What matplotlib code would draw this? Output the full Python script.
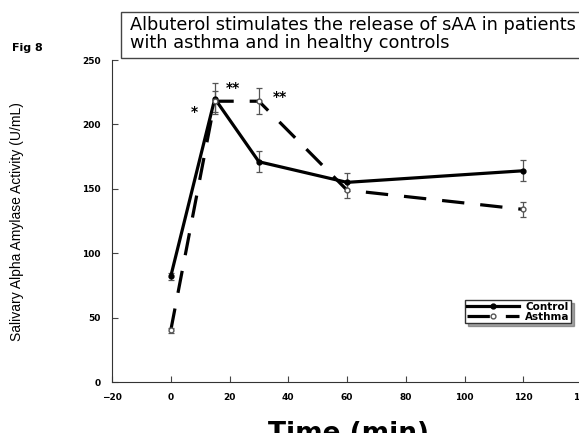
import matplotlib.pyplot as plt
from matplotlib.patches import Rectangle

plt.rcParams['font.family'] = ['DejaVu Sans']

# time points (min)
time = [0, 15, 30, 60, 120]

# healthy controls (solid) and asthma (dashed), sAA in U/mL
control = [82, 220, 171, 155, 164]
control_err = [3, 12, 8, 7, 8]
asthma = [40, 218, 218, 149, 134]
asthma_err = [2, 8, 10, 6, 6]

star_x = [8, 21, 37]
star_y = [210, 228, 221]
star_txt = ['*', '**', '**']

xticks = [-20, 0, 20, 40, 60, 80, 100, 120, 140]
yticks = [0, 50, 100, 150, 200, 250]

fig = plt.figure(figsize=(5.79, 4.33), dpi=100)
ax = fig.add_axes([112/579, 1 - 382/433, 470/579, 322/433])

ax.errorbar(time, control, yerr=control_err, fmt='none', ecolor='#555555',
            elinewidth=0.9, capsize=2.5, capthick=0.9)
ax.errorbar(time, asthma, yerr=asthma_err, fmt='none', ecolor='#555555',
            elinewidth=0.9, capsize=2.5, capthick=0.9)
ax.plot(time, control, color='black', lw=2.3, marker='o', ms=3.5,
        mfc='black', label='Control')
ax.plot(time, asthma, color='black', lw=2.3, dashes=(7, 5), marker='o', ms=3.5,
        mfc='white', mec='#555555', label='Asthma')

for x, y, s in zip(star_x, star_y, star_txt):
    ax.text(x, y, s, fontsize=10, fontweight='bold', ha='center', va='center')

ax.set_xlim(-20, 140)
ax.set_ylim(0, 250)
ax.set_xticks(xticks)
ax.set_yticks(yticks)
ax.tick_params(direction='in', length=4, width=0.8, labelsize=6.5, pad=8, colors='#444444')
for lab in ax.get_xticklabels() + ax.get_yticklabels():
    lab.set_fontweight('bold')
    lab.set_color('black')
ax.spines['top'].set_visible(False)
ax.spines['right'].set_visible(False)
ax.spines['left'].set_color('#333333')
ax.spines['bottom'].set_color('#333333')

fig.text(17/579, 1 - 222/433, 'Salivary Alpha Amylase Activity (U/mL)',
         family='Liberation Sans', fontsize=10, rotation=90, ha='center', va='center')
fig.text(348/579, 1 - 421/433, 'Time (min)', fontsize=19, fontweight='bold',
         ha='center', va='top')

fig.text(12/579, 1 - 48/433, 'Fig 8', fontsize=8, fontweight='bold', va='center')

# title box, runs off the right edge like the original
fig.patches.append(Rectangle((121/579, 1 - 58/433), 470/579, 46/433,
                             transform=fig.transFigure, fc='white', ec='#444444', lw=1))
fig.text(130/579, 1 - 34/433,
         'Albuterol stimulates the release of sAA in patients\nwith asthma and in healthy controls',
         fontsize=12.8, va='center', ha='left', linespacing=0.95)

leg = ax.legend(loc='upper left', bbox_to_anchor=(460/579, 1 - 295/433),
                bbox_transform=fig.transFigure, fontsize=7.5, frameon=True,
                fancybox=False, shadow=True, handlelength=5, borderpad=0.15,
                labelspacing=0.0, handletextpad=0.6)
leg.get_frame().set_edgecolor('#333333')
for t in leg.get_texts():
    t.set_fontweight('bold')

fig.savefig('out.png', dpi=100)
